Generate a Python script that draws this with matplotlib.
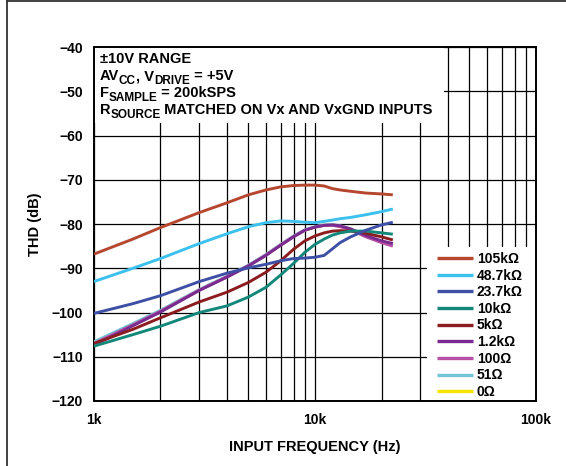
import matplotlib
matplotlib.use("Agg")
import matplotlib.pyplot as plt
from matplotlib.patches import Rectangle
from matplotlib.lines import Line2D
from matplotlib.ticker import FixedLocator, NullFormatter

plt.rcParams['font.family'] = ['Liberation Sans', 'DejaVu Sans']
plt.rcParams['font.weight'] = 'bold'

# --- data ---
freq_hz = [1000, 1500, 2000, 3000, 4000, 5000, 6000, 7000, 8000, 9000,
           10000, 11000, 12000, 13000, 14500, 17000, 20000, 22500]

thd_105k = [-86.8, -83.4, -80.8, -77.4, -75.2, -73.4, -72.3, -71.6, -71.3, -71.2,
            -71.2, -71.4, -72.0, -72.3, -72.6, -73.0, -73.2, -73.4]
thd_48k7 = [-93.0, -90.0, -87.8, -84.4, -82.2, -80.6, -79.7, -79.3, -79.4, -79.6,
            -79.7, -79.4, -79.1, -78.8, -78.5, -77.9, -77.2, -76.6]
thd_23k7 = [-100.2, -98.0, -96.2, -93.0, -91.1, -89.9, -89.1, -88.3, -87.8, -87.7,
            -87.5, -87.1, -85.6, -84.2, -82.9, -81.4, -80.2, -79.6]
thd_10k = [-107.6, -105.0, -103.1, -100.0, -98.5, -96.5, -94.3, -91.5, -88.9, -86.4,
           -84.6, -83.4, -82.5, -82.0, -81.6, -81.6, -82.0, -82.3]
thd_5k = [-107.0, -103.8, -101.2, -97.6, -95.4, -93.2, -90.9, -88.3, -85.7, -83.8,
          -82.7, -82.0, -81.6, -81.5, -81.6, -82.1, -82.9, -83.6]
thd_1k2 = [-107.4, -103.0, -99.9, -95.0, -92.0, -89.5, -87.1, -84.8, -82.9, -81.4,
           -80.7, -80.3, -80.2, -80.4, -81.1, -82.6, -83.8, -84.4]
thd_100 = [-107.0, -102.8, -99.7, -94.9, -91.9, -89.4, -87.0, -84.7, -82.8, -81.4,
           -80.7, -80.3, -80.3, -80.6, -81.3, -82.9, -84.2, -85.0]
thd_51 = [-106.6, -102.5, -99.5, -94.8, -91.8, -89.3, -86.9, -84.6, -82.7, -81.3,
          -80.6, -80.2, -80.1, -80.4, -81.1, -82.7, -84.0, -84.7]
thd_0 = [-106.8, -102.7, -99.6, -94.9, -91.9, -89.4, -87.0, -84.7, -82.8, -81.4,
         -80.7, -80.3, -80.2, -80.5, -81.2, -82.8, -84.1, -84.8]

labels = ["105k\u03a9", "48.7k\u03a9", "23.7k\u03a9", "10k\u03a9", "5k\u03a9",
          "1.2k\u03a9", "100\u03a9", "51\u03a9", "0\u03a9"]
series = [thd_105k, thd_48k7, thd_23k7, thd_10k, thd_5k, thd_1k2, thd_100, thd_51, thd_0]
colors = ["#b5472f", "#3cc1ee", "#3e50a6", "#13877a", "#8b1c1f",
          "#7a2b90", "#b84fa5", "#74c6d6", "#f5e400"]
zorders = [9, 8, 7, 6, 5, 4.5, 4, 3, 2]

# note lines: (text, is_subscript)
notes = [
    [("\u00b110V RANGE", False)],
    [("AV", False), ("CC", True), (", V", False), ("DRIVE", True), (" = +5V", False)],
    [("F", False), ("SAMPLE", True), (" = 200kSPS", False)],
    [("R", False), ("SOURCE", True), (" MATCHED ON Vx AND VxGND INPUTS", False)],
]

# --- plot ---
fig = plt.figure(figsize=(5.66, 4.66), dpi=100)
ax = fig.add_axes([0.166, 0.1395, 0.781, 0.7595])

ax.set_xscale("log")
ax.set_xlim(1000, 100000)
ax.set_ylim(-120, -40)

for y, lab, c, z in zip(series, labels, colors, zorders):
    ax.plot(freq_hz, y, color=c, lw=2.1, label=lab, zorder=z, solid_capstyle="butt")

ax.xaxis.set_major_locator(FixedLocator([1000, 10000, 100000]))
ax.set_xticklabels(["1k", "10k", "100k"])
ax.xaxis.set_minor_locator(FixedLocator([k * d for d in (1000, 10000) for k in range(2, 10)]))
ax.xaxis.set_minor_formatter(NullFormatter())
ax.set_yticks(range(-120, -39, 10))

ax.set_axisbelow(True)
ax.grid(True, which="both", color="black", lw=0.9)
ax.tick_params(which="both", length=0, labelsize=10)
ax.tick_params(axis="y", pad=8)
ax.tick_params(axis="x", pad=9)
for s in ax.spines.values():
    s.set_linewidth(1.4)

# white boxes hiding the grid behind the notes and the legend
ax.add_patch(Rectangle((0, 0.785), 0.793, 0.215, transform=ax.transAxes,
                       facecolor="white", edgecolor="none", zorder=1))
ax.add_patch(Rectangle((0.753, 0), 0.247, 0.435, transform=ax.transAxes,
                       facecolor="white", edgecolor="none", zorder=1))

# notes with real-size subscripts, chained piece by piece
for i, parts in enumerate(notes):
    prev = None
    prev_sub = False
    for s, sub in parts:
        size = 8.5 if sub else 10.5
        if prev is None:
            prev = ax.text(0.013, 0.946 - i * 0.048, s, transform=ax.transAxes,
                           fontsize=size, fontweight="bold", va="bottom", zorder=10)
        else:
            dy = 0
            if sub and not prev_sub:
                dy = -2.8
            elif prev_sub and not sub:
                dy = 2.8
            prev = ax.annotate(s, xy=(1, 0), xycoords=prev, xytext=(0, dy),
                               textcoords="offset points", fontsize=size,
                               fontweight="bold", va="bottom", ha="left", zorder=10)
        prev_sub = sub

leg = ax.legend(loc="upper left", bbox_to_anchor=(0.769, 0.429), frameon=False,
                fontsize=10, handlelength=2.6, handletextpad=0.3, labelspacing=0.19,
                borderpad=0.2, borderaxespad=0)
for line in leg.get_lines():
    line.set_linewidth(2.4)

ax.set_xlabel("INPUT FREQUENCY (Hz)", fontsize=10.5, fontweight="bold", labelpad=9)
ax.set_ylabel("THD (dB)", fontsize=10.5, fontweight="bold", labelpad=7)

# outer frame lines (left and top)
fig.add_artist(Line2D([0.012, 0.012], [0, 0.998], transform=fig.transFigure,
                      color="#333333", lw=1.3))
fig.add_artist(Line2D([0.012, 1], [0.998, 0.998], transform=fig.transFigure,
                      color="#333333", lw=1.3))

fig.savefig("out.png", dpi=100)
